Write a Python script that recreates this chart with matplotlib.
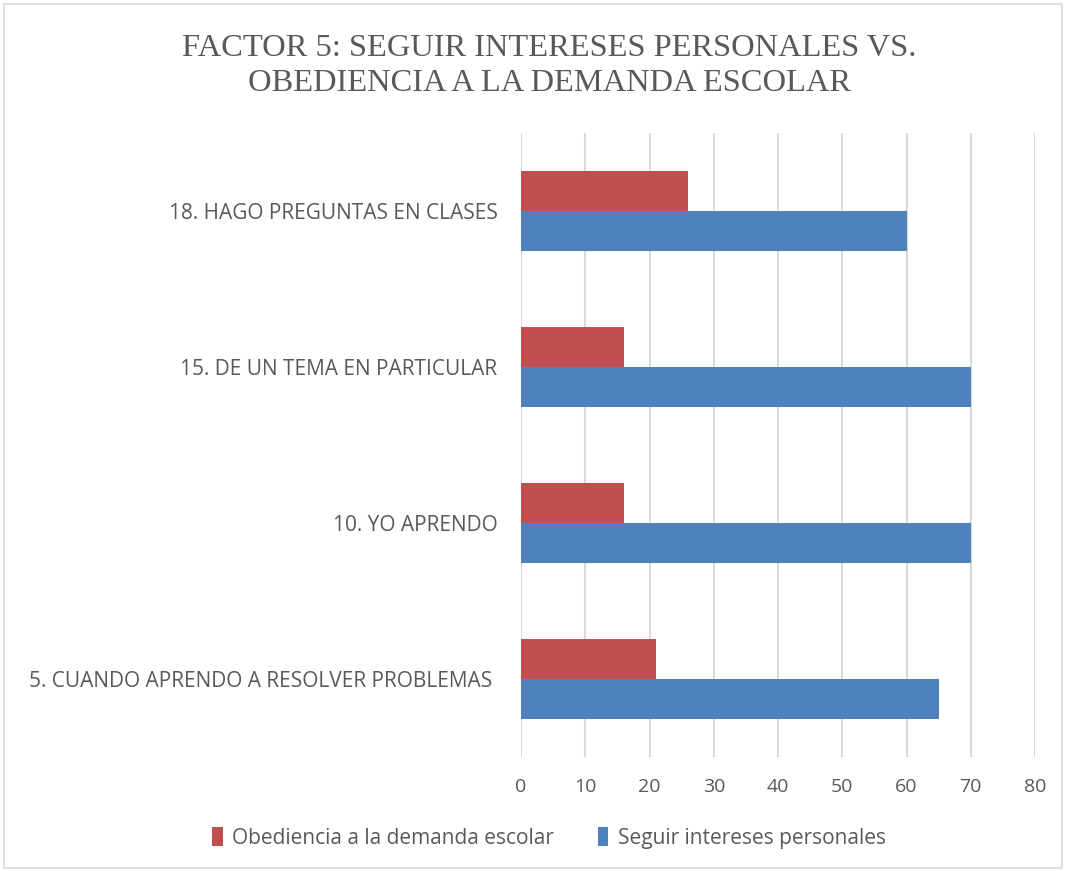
import matplotlib
matplotlib.use("Agg")
import matplotlib.pyplot as plt
from matplotlib.patches import Rectangle
import numpy as np

categories = ["5. CUANDO APRENDO A RESOLVER PROBLEMAS ", "10. YO APRENDO",
              "15. DE UN TEMA EN PARTICULAR", "18. HAGO PREGUNTAS EN CLASES"]
obediencia = [21, 16, 16, 26]
seguir = [65, 70, 70, 60]
series_names = ["Obediencia a la demanda escolar", "Seguir intereses personales"]
xticks = [0, 10, 20, 30, 40, 50, 60, 70, 80]

RED = "#C0504D"
BLUE = "#4F81BD"
TXT = "#595959"

fig = plt.figure(figsize=(10.65, 8.71), dpi=100)
W, H = 1065, 871
fig.patches.append(Rectangle((4 / W, 3 / H), 1058 / W, 864 / H, transform=fig.transFigure,
                             fill=False, edgecolor="#d9d9d9", linewidth=1.2))

ax = fig.add_axes([521 / W, 1 - 757 / H, (1035 - 521) / W, (757 - 133) / H])
y = np.arange(len(categories))
h = 0.258
ax.barh(y + h / 2, obediencia, height=h, color=RED, label=series_names[0], zorder=3)
ax.barh(y - h / 2, seguir, height=h, color=BLUE, label=series_names[1], zorder=3)
ax.set_xlim(0, 80)
ax.set_ylim(-0.5, 3.5)
ax.set_xticks(xticks)
ax.set_yticks(y)
ax.set_yticklabels(categories, fontfamily="Open Sans", fontsize=15, color=TXT)
for lab in ax.get_xticklabels():
    lab.set_fontfamily("Open Sans")
    lab.set_fontsize(14)
    lab.set_color(TXT)
ax.tick_params(axis="both", length=0)
ax.tick_params(axis="x", pad=15)
ax.tick_params(axis="y", pad=17)
for s in ax.spines.values():
    s.set_visible(False)
ax.grid(axis="x", color="#d9d9d9", linewidth=1.5, zorder=0)
ax.set_axisbelow(True)

fig.text(549 / W, 1 - 66 / H, "FACTOR 5: SEGUIR INTERESES PERSONALES VS.\nOBEDIENCIA A LA DEMANDA ESCOLAR",
         ha="center", va="center", fontfamily="Liberation Serif", fontsize=23.4, color=TXT,
         linespacing=1.27)

handles, labels = ax.get_legend_handles_labels()
fig.legend(handles, labels, loc="center", bbox_to_anchor=(549 / W, 1 - 838 / H), ncol=2,
           frameon=False, prop={"family": "Open Sans", "size": 15}, labelcolor=TXT,
           handlelength=0.5, handleheight=1.0, handletextpad=0.45, columnspacing=2.1)

fig.savefig("out.png", dpi=100)
